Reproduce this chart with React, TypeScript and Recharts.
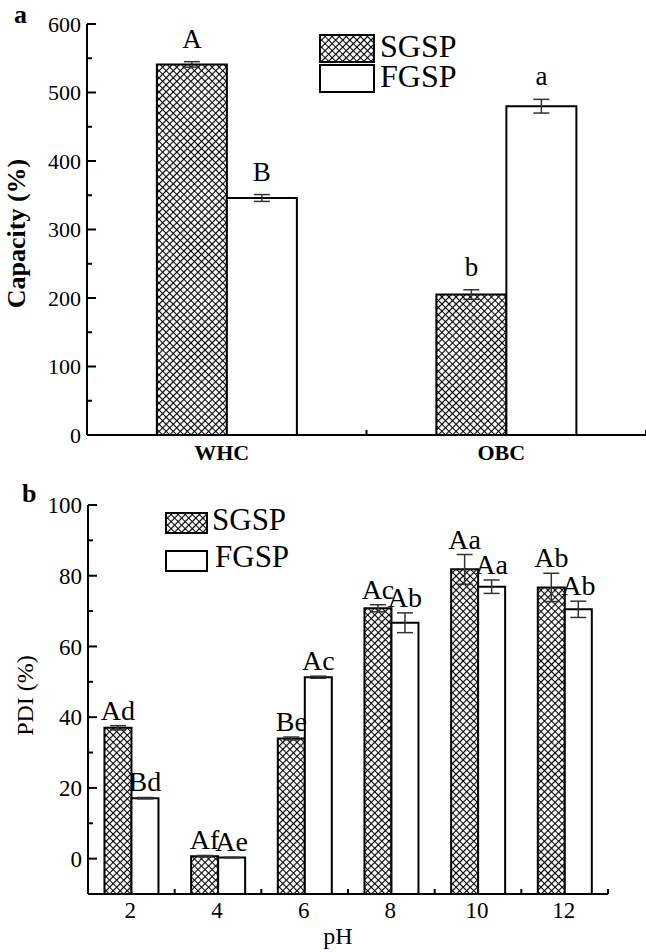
import React from 'react';
import { BarChart, Bar, XAxis, YAxis, ErrorBar, LabelList, Legend, Label } from 'recharts';

// ---------- Panel a data ----------
const capCategories = ['WHC', 'OBC'];
const capSGSP = [541, 205];
const capSGSPErr = [4, 7];
const capFGSP = [346, 480];
const capFGSPErr = [5, 10];
const capSGSPLetters = ['A', 'b'];
const capFGSPLetters = ['B', 'a'];
const capTicks = [0, 50, 100, 150, 200, 250, 300, 350, 400, 450, 500, 550, 600];

// ---------- Panel b data ----------
const phCategories = ['2', '4', '6', '8', '10', '12'];
const pdiSGSP = [37.0, 0.7, 34.0, 70.8, 81.8, 76.7];
const pdiSGSPErr = [0.6, 0.2, 0.4, 1.0, 4.2, 4.0];
const pdiFGSP = [17.1, 0.3, 51.3, 66.7, 76.9, 70.5];
const pdiFGSPErr = [0.2, 0.1, 0.3, 2.8, 1.9, 2.3];
const pdiSGSPLetters = ['Ad', 'Af', 'Be', 'Ac', 'Aa', 'Ab'];
const pdiFGSPLetters = ['Bd', 'Ae', 'Ac', 'Ab', 'Aa', 'Ab'];
const pdiTicks = [0, 10, 20, 30, 40, 50, 60, 70, 80, 90, 100];
const pdiBase = -10;

const capData = capCategories.map((name, i) => ({
  name,
  s: capSGSP[i],
  sErr: capSGSPErr[i],
  f: capFGSP[i],
  fErr: capFGSPErr[i],
}));

const pdiData = phCategories.map((name, i) => ({
  name,
  s: [pdiBase, pdiSGSP[i]],
  sErr: pdiSGSPErr[i],
  f: [pdiBase, pdiFGSP[i]],
  fErr: pdiFGSPErr[i],
}));

const FONT = "'Liberation Serif', 'Times New Roman', serif";

const makeYTick = (majorStep: number, majorLen: number, minorLen: number, fontSize: number) => (props: any) => {
  const { x, y, payload } = props;
  const v = payload.value;
  const major = v % majorStep === 0;
  return (
    <g>
      <line x1={x} x2={x + (major ? majorLen : minorLen)} y1={y} y2={y} stroke="#000" strokeWidth={2} />
      {major && (
        <text x={x - 6} y={y} dy="0.35em" textAnchor="end" fontSize={fontSize} fontFamily={FONT} fill="#000">
          {v}
        </text>
      )}
    </g>
  );
};

const makeXTick = (band: number, fontSize: number, bold: boolean, dx: number, labelDy: number) => (props: any) => {
  const { x, y, payload } = props;
  return (
    <g>
      <line x1={x + band / 2} x2={x + band / 2} y1={y} y2={y - 5} stroke="#000" strokeWidth={2} />
      <text
        x={x + dx}
        y={y + labelDy}
        textAnchor="middle"
        fontSize={fontSize}
        fontWeight={bold ? 'bold' : 'normal'}
        fontFamily={FONT}
        fill="#000"
      >
        {payload.value}
      </text>
    </g>
  );
};

const makeBarLabel = (
  letters: string[],
  values: number[],
  errs: number[],
  base: number,
  gap: number,
  fontSize: number
) => (props: any) => {
  const vb = props.viewBox && props.viewBox.width !== undefined ? props.viewBox : props;
  const x = Number(vb.x);
  const y = Number(vb.y);
  const width = Number(vb.width);
  const height = Math.abs(Number(vb.height));
  const i = props.index;
  const v = values[i];
  const e = errs[i];
  const ppu = v - base !== 0 ? height / (v - base) : 0;
  const ty = y - e * ppu - gap;
  return (
    <text x={x + width / 2} y={ty} textAnchor="middle" fontSize={fontSize} fontFamily={FONT} fill="#000">
      {letters[i]}
    </text>
  );
};

const HatchDef = ({ id }: { id: string }) => (
  <pattern id={id} patternUnits="userSpaceOnUse" width={5} height={5} patternTransform="rotate(45)">
    <rect x={0} y={0} width={5} height={5} fill="#fff" />
    <path d="M0 2.5 H5 M2.5 0 V5" stroke="#000" strokeWidth={1.2} />
  </pattern>
);

const TOP_W = 646;
const TOP_H = 475;
const TOP_M = { top: 24, right: 0, left: 0, bottom: 10 };
const TOP_YW = 87;
const topBand = (TOP_W - TOP_M.left - TOP_M.right - TOP_YW) / capCategories.length;

const BOT_W = 646;
const BOT_H = 482;
const BOT_M = { top: 35, right: 38, left: 0, bottom: 28 };
const BOT_YW = 88;
const botBand = (BOT_W - BOT_M.left - BOT_M.right - BOT_YW) / phCategories.length;

const TopLegend = () => (
  <svg width={170} height={62} style={{ display: 'block', overflow: 'visible' }}>
    <defs>
      <HatchDef id="hatchLegA" />
    </defs>
    <rect x={2} y={2} width={54} height={27} fill="url(#hatchLegA)" stroke="#000" strokeWidth={2} />
    <rect x={2} y={32} width={54} height={27} fill="#fff" stroke="#000" strokeWidth={2} />
    <text x={62} y={24} fontSize={32} fontFamily={FONT} fill="#000">SGSP</text>
    <text x={62} y={54} fontSize={32} fontFamily={FONT} fill="#000">FGSP</text>
  </svg>
);

const BotLegend = () => (
  <svg width={140} height={62} style={{ display: 'block', overflow: 'visible' }}>
    <defs>
      <HatchDef id="hatchLegB" />
    </defs>
    <rect x={2} y={2} width={41} height={20} fill="url(#hatchLegB)" stroke="#000" strokeWidth={2} />
    <rect x={2} y={40} width={41} height={20} fill="#fff" stroke="#000" strokeWidth={2} />
    <text x={48} y={19} fontSize={31} fontFamily={FONT} fill="#000">SGSP</text>
    <text x={51} y={56} fontSize={31} fontFamily={FONT} fill="#000">FGSP</text>
  </svg>
);

export default function App() {
  return (
    <div style={{ position: 'absolute', left: 0, top: 0, width: 646, height: 952, background: '#fff' }}>
      <div
        style={{
          position: 'absolute',
          left: 14,
          top: 0,
          fontFamily: FONT,
          fontWeight: 'bold',
          fontSize: 26,
          lineHeight: '30px',
        }}
      >
        a
      </div>
      <div
        style={{
          position: 'absolute',
          left: 22,
          top: 479,
          fontFamily: FONT,
          fontWeight: 'bold',
          fontSize: 26,
          lineHeight: '30px',
        }}
      >
        b
      </div>

      <div style={{ position: 'absolute', left: 0, top: 0 }}>
        <BarChart width={TOP_W} height={TOP_H} data={capData} margin={TOP_M} barGap={0} barCategoryGap="25%">
          <defs>
            <HatchDef id="hatchTop" />
          </defs>
          <XAxis
            dataKey="name"
            axisLine={{ stroke: '#000', strokeWidth: 2 }}
            tickLine={false}
            tickSize={0}
            tickMargin={0}
            interval={0}
            height={30}
            tick={makeXTick(topBand, 22, true, -5, 25)}
          />
          <YAxis
            width={TOP_YW}
            domain={[0, 600]}
            ticks={capTicks}
            interval={0}
            allowDataOverflow
            axisLine={{ stroke: '#000', strokeWidth: 2 }}
            tickLine={false}
            tickSize={0}
            tickMargin={0}
            tick={makeYTick(100, 9, 5, 22)}
          >
            <Label
              content={(p: any) => {
                const vb = p.viewBox || {};
                const cx = 16;
                const cy = vb.y + vb.height / 2 + 4;
                return (
                  <text
                    x={cx}
                    y={cy}
                    transform={`rotate(-90, ${cx}, ${cy})`}
                    textAnchor="middle"
                    dominantBaseline="central"
                    fontSize={26}
                    fontWeight="bold"
                    fontFamily={FONT}
                    fill="#000"
                  >
                    Capacity (%)
                  </text>
                );
              }}
            />
          </YAxis>
          <Legend
            layout="horizontal"
            verticalAlign="middle"
            align="center"
            wrapperStyle={{ left: 318, top: 33, width: 170, height: 62 }}
            content={() => <TopLegend />}
          />
          <Bar dataKey="s" fill="url(#hatchTop)" stroke="#000" strokeWidth={2} isAnimationActive={false}>
            <ErrorBar dataKey="sErr" width={8} stroke="#333" strokeWidth={1.5} />
            <LabelList dataKey="s" content={makeBarLabel(capSGSPLetters, capSGSP, capSGSPErr, 0, 14, 27)} />
          </Bar>
          <Bar dataKey="f" fill="#fff" stroke="#000" strokeWidth={2} isAnimationActive={false}>
            <ErrorBar dataKey="fErr" width={8} stroke="#333" strokeWidth={1.5} />
            <LabelList dataKey="f" content={makeBarLabel(capFGSPLetters, capFGSP, capFGSPErr, 0, 14, 27)} />
          </Bar>
        </BarChart>
      </div>

      <div style={{ position: 'absolute', left: 0, top: 470 }}>
        <BarChart width={BOT_W} height={BOT_H} data={pdiData} margin={BOT_M} barGap={0} barCategoryGap="19%">
          <defs>
            <HatchDef id="hatchBot" />
          </defs>
          <XAxis
            dataKey="name"
            axisLine={{ stroke: '#000', strokeWidth: 2 }}
            tickLine={false}
            tickSize={0}
            tickMargin={0}
            interval={0}
            height={30}
            tick={makeXTick(botBand, 23, false, -1, 24)}
          >
            <Label
              content={(p: any) => {
                const vb = p.viewBox || {};
                return (
                  <text
                    x={vb.x + vb.width / 2 - 10}
                    y={vb.y + 50}
                    textAnchor="middle"
                    fontSize={24}
                    fontFamily={FONT}
                    fill="#000"
                  >
                    pH
                  </text>
                );
              }}
            />
          </XAxis>
          <YAxis
            width={BOT_YW}
            domain={[pdiBase, 100]}
            ticks={pdiTicks}
            interval={0}
            allowDataOverflow
            axisLine={{ stroke: '#000', strokeWidth: 2 }}
            tickLine={false}
            tickSize={0}
            tickMargin={0}
            tick={makeYTick(20, 9, 5, 23)}
          >
            <Label
              content={(p: any) => {
                const vb = p.viewBox || {};
                const cx = 25;
                const cy = vb.y + vb.height / 2 - 4;
                return (
                  <text
                    x={cx}
                    y={cy}
                    transform={`rotate(-90, ${cx}, ${cy})`}
                    textAnchor="middle"
                    dominantBaseline="central"
                    fontSize={24}
                    fontFamily={FONT}
                    fill="#000"
                  >
                    PDI (%)
                  </text>
                );
              }}
            />
          </YAxis>
          <Legend
            layout="horizontal"
            verticalAlign="middle"
            align="center"
            wrapperStyle={{ left: 164, top: 41, width: 140, height: 62 }}
            content={() => <BotLegend />}
          />
          <Bar dataKey="s" fill="url(#hatchBot)" stroke="#000" strokeWidth={2} isAnimationActive={false}>
            <ErrorBar dataKey="sErr" width={8} stroke="#333" strokeWidth={1.5} />
            <LabelList dataKey="s" content={makeBarLabel(pdiSGSPLetters, pdiSGSP, pdiSGSPErr, pdiBase, 6, 28)} />
          </Bar>
          <Bar dataKey="f" fill="#fff" stroke="#000" strokeWidth={2} isAnimationActive={false}>
            <ErrorBar dataKey="fErr" width={8} stroke="#333" strokeWidth={1.5} />
            <LabelList dataKey="f" content={makeBarLabel(pdiFGSPLetters, pdiFGSP, pdiFGSPErr, pdiBase, 6, 28)} />
          </Bar>
        </BarChart>
      </div>
    </div>
  );
}
